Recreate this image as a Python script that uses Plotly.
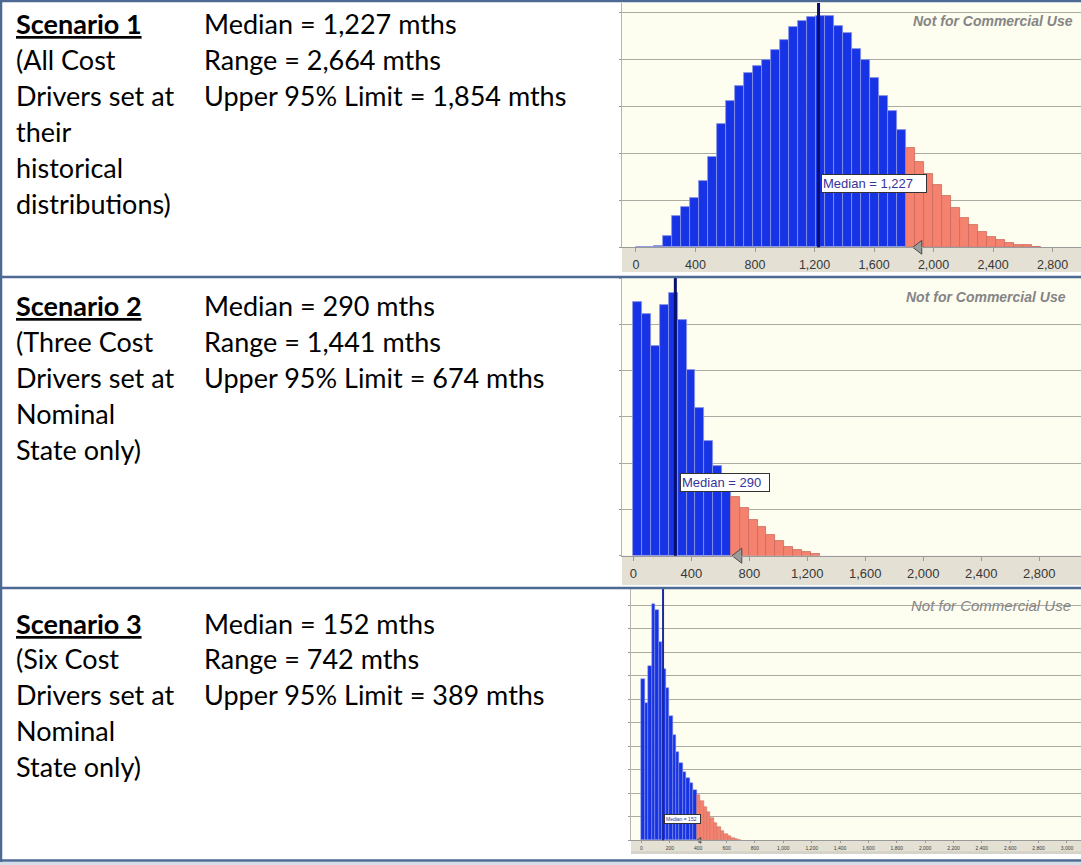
import math
import plotly.graph_objects as go

W, H = 1081, 865

# ---------------- data ----------------
titles = ["Scenario 1", "Scenario 2", "Scenario 3"]
desc_1 = ["(All Cost", "Drivers set at", "their", "historical", "distributions)"]
desc_2 = ["(Three Cost", "Drivers set at", "Nominal", "State only)"]
desc_3 = ["(Six Cost", "Drivers set at", "Nominal", "State only)"]
medians = [1227, 290, 152]
ranges_mths = [2664, 1441, 742]
upper95 = [1854, 674, 389]

bin_start = [0, 0, 0]
bin_width = [60.5, 61.2, 24.3]
counts_1 = [0, 0, 3, 25, 66, 87, 105, 142, 193, 262, 311, 344, 371, 386, 399,
            421, 443, 469, 482, 491, 493, 493, 473, 457, 423, 399, 362, 323,
            291, 251, 211, 182, 156, 132, 109, 84, 62, 48, 32, 21, 16, 10, 4, 4, 1]
counts_2 = [548, 523, 453, 541, 568, 510, 402, 319, 247, 194, 155, 126, 104,
            77, 63, 45, 32, 19, 12, 7, 3]
counts_3 = [688, 586, 741, 1004, 980, 842, 730, 646, 530, 446, 376, 329, 291,
            267, 245, 216, 192, 167, 143, 120, 94, 73, 55, 41, 27, 17, 10, 6, 3]

tickvals_12 = [0, 400, 800, 1200, 1600, 2000, 2400, 2800]
ticktext_12 = ["0", "400", "800", "1,200", "1,600", "2,000", "2,400", "2,800"]
tickvals_3 = [0, 200, 400, 600, 800, 1000, 1200, 1400, 1600, 1800, 2000,
              2200, 2400, 2600, 2800, 3000]
ticktext_3 = ["0", "200", "400", "600", "800", "1,000", "1,200", "1,400",
              "1,600", "1,800", "2,000", "2,200", "2,400", "2,600", "2,800",
              "3,000"]
watermark = "Not for Commercial Use"

# ---------------- styles / layout (pixels) ----------------
BLUE = "#1733E6"
BLUE_EDGE = "#8C96E1"
RED = "#F5826F"
RED_EDGE = "#C9695D"
PLOT_BG = "#FDFDF0"
BAND = "#E4E0D4"
GRID = "#ABABA3"
BORDER = "#4D6A94"
TXT_FONT = "Lato"
TXT_SIZE = 27
AX_FONT = "Liberation Sans"

panels = [
    dict(x0=622, x1=1081, y0=3, y1=247.3, band=272, xr=[-94, 2991], yr=[0, 521],
         counts=counts_1, tv=tickvals_12, tt=ticktext_12, tfs=12.5, tlen=4, stand=2,
         mlw=3, mcol="#08106E", lab_fs=13, lab_w=102, lab_y=0.262, lab_dx=2,
         tri=12, wm_x=1075, wm_y=20.8, wm_fs=14, wm_b=True, edge_w=0.8, ytl=2),
    dict(x0=622, x1=1081, y0=278, y1=555.7, band=585, xr=[-78, 3088], yr=[0, 600],
         counts=counts_2, tv=tickvals_12, tt=ticktext_12, tfs=13, tlen=4, stand=2,
         mlw=3, mcol="#08106E", lab_fs=13, lab_w=86, lab_y=0.262, lab_dx=5,
         tri=13, wm_x=1068, wm_y=296.7, wm_fs=14, wm_b=True, edge_w=0.8, ytl=2),
    dict(x0=631, x1=1081, y0=589, y1=840.3, band=851, xr=[-74, 3099], yr=[0, 1069],
         counts=counts_3, tv=tickvals_3, tt=ticktext_3, tfs=5, tlen=2, stand=1,
         mlw=2, mcol="#1A2A9A", lab_fs=5, lab_w=33, lab_y=0.084, lab_dx=1,
         tri=5, wm_x=1073, wm_y=605.3, wm_fs=15, wm_b=False, edge_w=0.5, ytl=2),
]

row_first_line = [24, 306, 623]
line_gap = 35.8
descs = [desc_1, desc_2, desc_3]
col1_x, col2_x = 14, 202


def px(x):
    return x / W


def py(y):
    return 1 - y / H


fig = go.Figure()
shapes = []
annotations = []
layout_axes = {}

for i, p in enumerate(panels):
    n = "" if i == 0 else str(i + 1)
    xa, ya = "x" + n, "y" + n
    w = bin_width[i]
    s0 = bin_start[i]
    lim = upper95[i]
    counts = p["counts"]
    centers = [s0 + w * (k + 0.5) for k in range(len(counts))]
    is_red = [s0 + w * (k + 1) > lim for k in range(len(counts))]
    colors = [RED if r else BLUE for r in is_red]
    edges = [RED_EDGE if r else BLUE_EDGE for r in is_red]
    fig.add_trace(go.Bar(
        x=centers, y=counts, width=w, xaxis=xa, yaxis=ya,
        marker=dict(color=colors, line=dict(color=edges, width=p["edge_w"])),
        showlegend=False, hoverinfo="skip"))

    pxu = (p["x1"] - p["x0"]) / (p["xr"][1] - p["xr"][0])
    r = p["tri"] / 2
    tip_px = r * 2 / math.sqrt(3)
    fig.add_trace(go.Scatter(
        x=[lim + tip_px / pxu], y=[0], xaxis=xa, yaxis=ya, mode="markers",
        marker=dict(symbol="triangle-left", size=p["tri"], color="#9C9C9C",
                    line=dict(color="#4A4A4A", width=1)),
        cliponaxis=False, showlegend=False, hoverinfo="skip"))

    layout_axes["xaxis" + n] = dict(
        domain=[px(p["x0"]), px(p["x1"])], range=p["xr"], anchor=ya,
        tickmode="array", tickvals=p["tv"], ticktext=p["tt"],
        showgrid=False, zeroline=False, showline=True, linecolor="#9A9A9A",
        linewidth=1, ticks="outside", ticklen=p["tlen"], tickcolor="#9A9A9A",
        ticklabelstandoff=p["stand"],
        tickfont=dict(family=AX_FONT, size=p["tfs"], color="#383838"),
        fixedrange=True)
    layout_axes["yaxis" + n] = dict(
        domain=[py(p["y1"]), py(p["y0"])], range=p["yr"], anchor=xa,
        dtick=100, showticklabels=False, showgrid=True, gridcolor=GRID,
        gridwidth=1, zeroline=False, showline=True, linecolor="#B5B5B0",
        linewidth=1, ticks="outside", ticklen=p["ytl"], tickcolor="#9A9A9A",
        fixedrange=True)

    # axis band below plot
    shapes.append(dict(type="rect", xref="paper", yref="paper",
                       x0=px(p["x0"]), x1=px(p["x1"]), y0=py(p["band"]), y1=py(p["y1"]),
                       fillcolor=BAND, line=dict(width=0), layer="below"))
    # median line
    shapes.append(dict(type="line", xref=xa, yref=ya + " domain",
                       x0=medians[i], x1=medians[i], y0=0, y1=1,
                       line=dict(color=p["mcol"], width=p["mlw"])))
    # median label
    annotations.append(dict(
        xref=xa, yref=ya + " domain", x=medians[i], y=p["lab_y"],
        xanchor="left", yanchor="middle", xshift=p["lab_dx"], showarrow=False,
        text=f"Median = {medians[i]:,}", align="left", width=p["lab_w"],
        font=dict(family=AX_FONT, size=p["lab_fs"], color="#34349A"),
        bgcolor="white", bordercolor="#333333", borderwidth=1, borderpad=1))
    # watermark
    annotations.append(dict(
        xref="paper", yref="paper", x=px(p["wm_x"]), y=py(p["wm_y"]),
        xanchor="right", yanchor="middle", showarrow=False,
        text=(f"<b><i>{watermark}</i></b>" if p["wm_b"] else f"<i>{watermark}</i>"),
        font=dict(family=AX_FONT, size=p["wm_fs"], color="#858585")))

# ---------------- left-hand text ----------------
for i in range(3):
    y0 = row_first_line[i]
    lines = [f"<b><u>{titles[i]}</u></b>"] + descs[i]
    for k, t in enumerate(lines):
        annotations.append(dict(
            xref="paper", yref="paper", x=px(col1_x), y=py(y0 + k * line_gap),
            xanchor="left", yanchor="middle", showarrow=False, text=t,
            font=dict(family=TXT_FONT, size=TXT_SIZE, color="black")))
    stats = [f"Median = {medians[i]:,} mths",
             f"Range = {ranges_mths[i]:,} mths",
             f"Upper 95% Limit = {upper95[i]:,} mths"]
    for k, t in enumerate(stats):
        annotations.append(dict(
            xref="paper", yref="paper", x=px(col2_x), y=py(y0 + k * line_gap),
            xanchor="left", yanchor="middle", showarrow=False, text=t,
            font=dict(family=TXT_FONT, size=TXT_SIZE, color="black")))

# ---------------- frame lines ----------------
shapes.append(dict(type="rect", xref="paper", yref="paper",
                   x0=px(631), x1=px(1081), y0=py(854), y1=py(851),
                   fillcolor="#D6D3C9", line=dict(width=0), layer="below"))
shapes.append(dict(type="rect", xref="paper", yref="paper",
                   x0=0, x1=1, y0=0, y1=py(862),
                   fillcolor="#D5DDE8", line=dict(width=0), layer="below"))
shapes.append(dict(type="line", xref="paper", yref="paper",
                   x0=px(1), x1=px(1), y0=py(0), y1=py(862),
                   line=dict(color=BORDER, width=2.5)))
for yy in [1, 277, 588, 860.5]:
    shapes.append(dict(type="line", xref="paper", yref="paper",
                       x0=0, x1=1, y0=py(yy), y1=py(yy),
                       line=dict(color=BORDER, width=2.5)))

fig.update_layout(
    width=W, height=H, margin=dict(l=0, r=0, t=0, b=0),
    paper_bgcolor="white", plot_bgcolor=PLOT_BG,
    bargap=0, showlegend=False,
    shapes=shapes, annotations=annotations,
    **layout_axes)

fig.write_html("out.html", config={"displayModeBar": False})
